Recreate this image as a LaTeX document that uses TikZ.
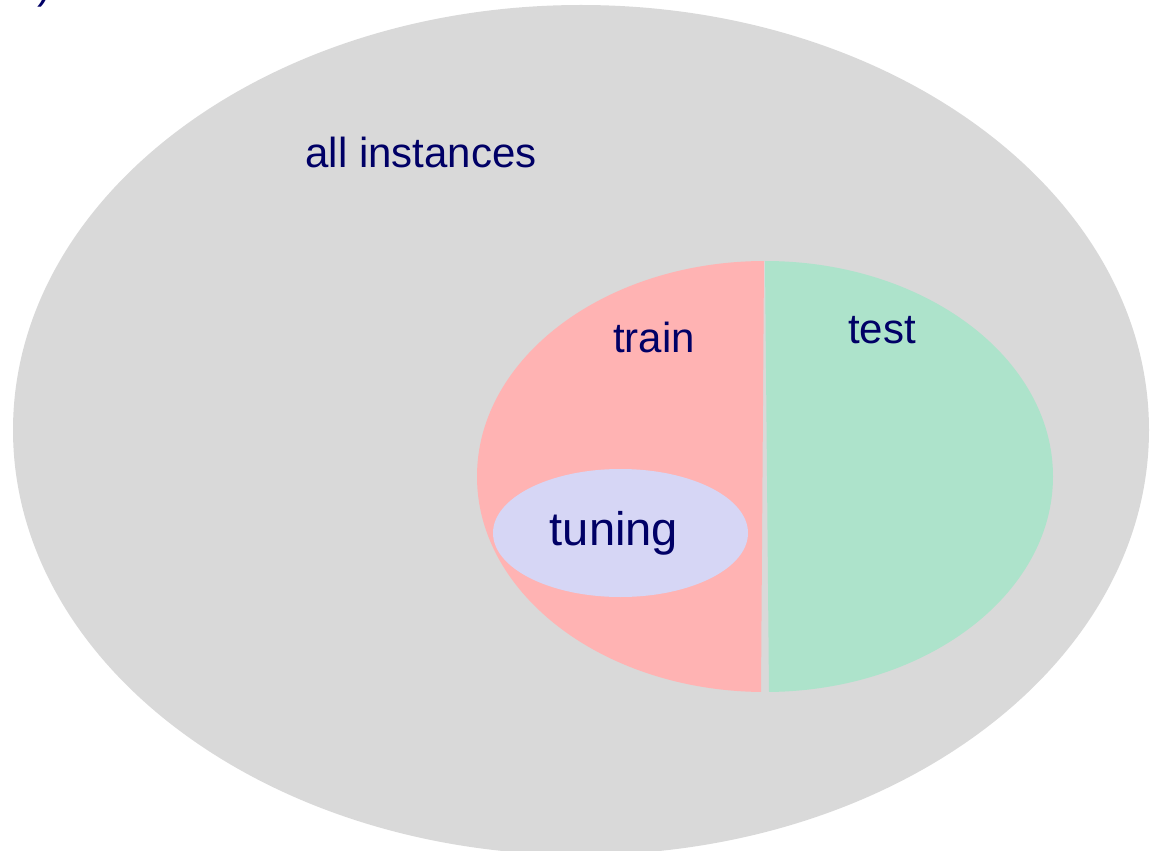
\documentclass[tikz,border=0pt]{standalone}
\usepackage{fontspec}
\setmainfont{Liberation Sans}
\definecolor{allgray}{HTML}{D9D9D9}
\definecolor{trainpink}{HTML}{FFB3B3}
\definecolor{testgreen}{HTML}{ADE3CB}
\definecolor{tunelav}{HTML}{D6D6F5}
\definecolor{navy}{HTML}{000066}
\tikzset{
  lbl/.style={text=navy, inner sep=0pt, anchor=base, font=\fontsize{23.9}{28}\selectfont},
  biglbl/.style={lbl, font=\fontsize{26.8}{32}\selectfont}
}
\begin{document}
\begin{tikzpicture}[x=0.02cm,y=-0.02cm]
\useasboundingbox (0,0) rectangle (1157,851);
\begin{scope}
\clip (0,0) rectangle (1157,851);
% all instances
\fill[allgray] (581,430) ellipse [x radius=568, y radius=425];
\node[lbl, anchor=base west] (frag) at (37,-1) {)};
% train half
\begin{scope}
\clip (400,200) -- (764,200) -- (764,261) -- (761,692) -- (761,760) -- (400,760) -- cycle;
\fill[trainpink] (765,476.5) ellipse [x radius=288, y radius=215.5];
\end{scope}
% test half
\begin{scope}
\clip (765,200) -- (1100,200) -- (1100,760) -- (769,760) -- (769,692) -- (765,261) -- cycle;
\fill[testgreen] (765,476.5) ellipse [x radius=288, y radius=215.5];
\end{scope}
% tuning
\fill[tunelav] (620.5,533) ellipse [x radius=127.5, y radius=64];
\end{scope}
\node[lbl] (all) at (421,168) {all instances};
\node[lbl] (train) at (654,353) {train};
\node[lbl] (test) at (882,344) {test};
\node[biglbl] (tuning) at (614,545) {tuning};
\end{tikzpicture}
\end{document}
